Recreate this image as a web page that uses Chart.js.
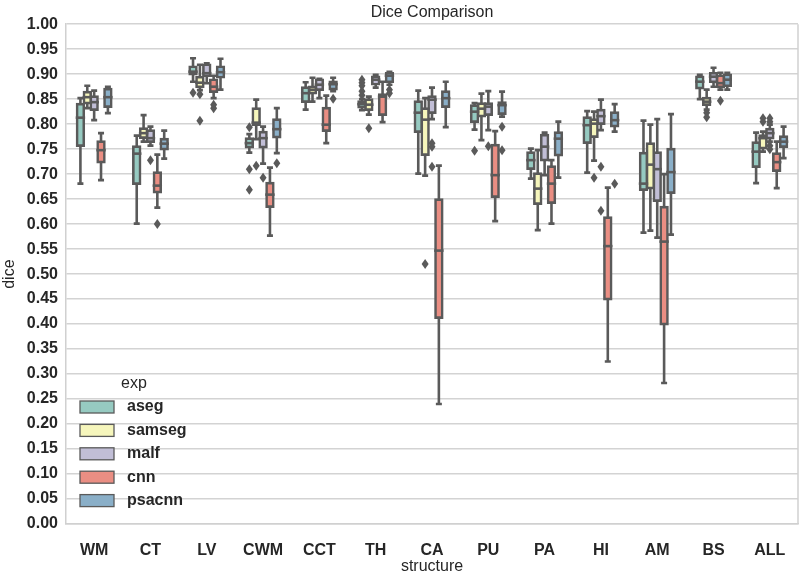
<!DOCTYPE html>
<html><head><meta charset="utf-8">
<script src="https://cdn.jsdelivr.net/npm/chart.js@4.4.1/dist/chart.umd.min.js"></script>
<style>html,body{margin:0;padding:0;background:#fff}#wrap{width:800px;height:571px}</style>
</head><body><div id="wrap"><canvas id="c" width="800" height="571"></canvas></div>
<script>
const categories = ['WM','CT','LV','CWM','CCT','TH','CA','PU','PA','HI','AM','BS','ALL'];
const hues = ['aseg','samseg','malf','cnn','psacnn'];
const hueColors = ['#96cac1','#f6f6bc','#c1bed6','#ea8e83','#8aafc8'];

// five-number summaries per structure: [lower whisker, q1, median, q3, upper whisker]
const asegStats = [
  [0.681,0.757,0.813,0.840,0.852],[0.601,0.681,0.741,0.755,0.777],[0.885,0.900,0.905,0.915,0.932],
  [0.743,0.754,0.762,0.771,0.780],[0.829,0.845,0.862,0.873,0.884],[0.828,0.834,0.840,0.845,0.850],
  [0.701,0.785,0.823,0.845,0.867],[0.789,0.805,0.825,0.837,0.842],[0.691,0.711,0.728,0.743,0.751],
  [0.703,0.763,0.798,0.813,0.826],[0.583,0.669,0.681,0.742,0.807],[0.850,0.872,0.885,0.895,0.899],
  [0.682,0.715,0.745,0.763,0.783]];
const samsegStats = [
  [0.832,0.842,0.854,0.864,0.877],[0.765,0.773,0.782,0.791,0.818],[0.868,0.875,0.883,0.894,0.919],
  [0.770,0.799,0.803,0.831,0.849],[0.845,0.862,0.869,0.875,0.893],[0.819,0.829,0.839,0.849,0.855],
  [0.697,0.739,0.809,0.831,0.852],[0.768,0.816,0.831,0.841,0.861],[0.588,0.641,0.671,0.701,0.748],
  [0.727,0.775,0.801,0.809,0.825],[0.587,0.672,0.719,0.761,0.799],[0.829,0.839,0.845,0.852,0.869],
  [0.745,0.752,0.772,0.777,0.785]];
const malfStats = [
  [0.808,0.829,0.844,0.855,0.867],[0.757,0.765,0.772,0.787,0.795],[0.882,0.897,0.902,0.919,0.922],
  [0.721,0.754,0.772,0.784,0.795],[0.852,0.869,0.879,0.889,0.891],[0.873,0.880,0.889,0.895,0.899],
  [0.810,0.823,0.849,0.855,0.873],[0.788,0.819,0.835,0.841,0.866],[0.698,0.728,0.755,0.778,0.783],
  [0.788,0.801,0.816,0.828,0.849],[0.573,0.647,0.710,0.743,0.810],[0.875,0.885,0.895,0.902,0.913],
  [0.765,0.772,0.782,0.790,0.799]];
const cnnStats = [
  [0.688,0.724,0.748,0.765,0.782],[0.633,0.664,0.677,0.703,0.739],[0.852,0.865,0.875,0.889,0.897],
  [0.577,0.635,0.659,0.682,0.713],[0.762,0.787,0.799,0.832,0.857],[0.804,0.819,0.855,0.859,0.885],
  [0.240,0.413,0.547,0.649,0.717],[0.606,0.655,0.698,0.758,0.786],[0.601,0.643,0.681,0.715,0.728],
  [0.325,0.450,0.556,0.613,0.673],[0.282,0.400,0.565,0.634,0.700],[0.869,0.875,0.882,0.897,0.903],
  [0.672,0.707,0.724,0.741,0.765]];
const psacnnStats = [
  [0.822,0.835,0.854,0.870,0.875],[0.731,0.750,0.761,0.770,0.787],[0.869,0.894,0.904,0.915,0.931],
  [0.742,0.774,0.790,0.809,0.832],[0.866,0.870,0.880,0.885,0.893],[0.879,0.885,0.897,0.902,0.905],
  [0.794,0.835,0.852,0.865,0.885],[0.815,0.821,0.838,0.843,0.865],[0.693,0.738,0.771,0.783,0.805],
  [0.785,0.796,0.808,0.823,0.840],[0.579,0.663,0.704,0.750,0.820],[0.869,0.877,0.889,0.899,0.903],
  [0.732,0.755,0.765,0.775,0.795]];

// outliers per structure
const asegOutliers   = [[],[],[0.863],[0.794,0.710,0.669],[],[0.858,0.866,0.877,0.883,0.889],[],[0.747],[],[],[],[],[]];
const samsegOutliers = [[],[],[0.860,0.807],[0.717],[],[0.792],[0.520],[],[],[0.693],[],[0.823,0.814],[0.805,0.812]];
const malfOutliers   = [[],[0.728],[],[0.693],[],[],[0.762,0.755,0.715],[0.756],[],[0.715,0.627],[],[],[0.805,0.812,0.757,0.750]];
const cnnOutliers    = [[],[0.600],[0.839,0.832],[],[],[],[],[],[],[],[],[0.847],[]];
const psacnnOutliers = [[],[],[],[0.722],[0.851],[0.869,0.862],[],[0.795,0.748],[],[0.681],[],[],[]];

const statsByHue = [asegStats, samsegStats, malfStats, cnnStats, psacnnStats];
const outliersByHue = [asegOutliers, samsegOutliers, malfOutliers, cnnOutliers, psacnnOutliers];

const LINE = '#5a5a5a', LW = 2.6, TXT = '#262626';
const FONT = '"Liberation Sans", Arial, sans-serif';

const boxPlugin = {
  id: 'boxparts',
  beforeDatasetsDraw(chart) {
    const y = chart.scales.y, ctx = chart.ctx;
    ctx.save();
    ctx.strokeStyle = LINE; ctx.lineWidth = LW;
    chart.data.datasets.forEach((ds, i) => {
      chart.getDatasetMeta(i).data.forEach((el, j) => {
        const s = statsByHue[i][j], x = el.x;
        ctx.lineCap = 'butt';
        ctx.beginPath();
        ctx.moveTo(x, y.getPixelForValue(s[1])); ctx.lineTo(x, y.getPixelForValue(s[0]));
        ctx.moveTo(x, y.getPixelForValue(s[3])); ctx.lineTo(x, y.getPixelForValue(s[4]));
        ctx.stroke();
        ctx.lineCap = 'square';
        const cw = el.width * 0.25;
        ctx.beginPath();
        [s[0], s[4]].forEach(v => { const py = y.getPixelForValue(v); ctx.moveTo(x - cw, py); ctx.lineTo(x + cw, py); });
        ctx.stroke();
      });
    });
    ctx.restore();
  },
  afterDatasetDraw(chart, args) {
    const i = args.index, y = chart.scales.y, ctx = chart.ctx;
    ctx.save();
    ctx.strokeStyle = LINE; ctx.lineWidth = LW; ctx.lineCap = 'butt';
    args.meta.data.forEach((el, j) => {
      const s = statsByHue[i][j], x = el.x, hw = el.width / 2 + LW / 2;
      const py = y.getPixelForValue(s[2]);
      ctx.beginPath(); ctx.moveTo(x - hw, py); ctx.lineTo(x + hw, py); ctx.stroke();
      ctx.fillStyle = LINE;
      outliersByHue[i][j].forEach(v => {
        const oy = y.getPixelForValue(v);
        ctx.beginPath();
        ctx.moveTo(x, oy - 5); ctx.lineTo(x + 3.5, oy); ctx.lineTo(x, oy + 5); ctx.lineTo(x - 3.5, oy);
        ctx.closePath(); ctx.fill();
      });
    });
    ctx.restore();
  },
  afterDraw(chart) {
    const ctx = chart.ctx, a = chart.chartArea;
    ctx.save();
    ctx.strokeStyle = '#d0d0d0'; ctx.lineWidth = 1.5;
    ctx.beginPath(); ctx.moveTo(a.right, a.top); ctx.lineTo(a.right, a.bottom); ctx.stroke();
    // legend
    ctx.fillStyle = TXT; ctx.textAlign = 'center'; ctx.textBaseline = 'middle';
    ctx.font = '16px ' + FONT;
    ctx.fillText('exp', 134, 384);
    chart.data.datasets.forEach((ds, k) => {
      const cy = 407 + k * 23.4;
      ctx.fillStyle = ds.backgroundColor;
      ctx.fillRect(80, cy - 6, 34, 12);
      ctx.strokeStyle = LINE; ctx.lineWidth = 1.3;
      ctx.strokeRect(80, cy - 6, 34, 12);
      ctx.fillStyle = TXT; ctx.textAlign = 'left';
      ctx.font = 'bold 16px ' + FONT;
      ctx.fillText(ds.label, 127, cy);
    });
    ctx.restore();
  }
};

const datasets = hues.map((h, i) => ({
  label: h,
  data: statsByHue[i].map(s => [s[1], s[3]]),
  backgroundColor: hueColors[i],
  borderColor: LINE,
  borderWidth: LW,
  borderSkipped: false,
  inflateAmount: LW / 2,
  categoryPercentage: 0.61,
  barPercentage: 0.99
}));

new Chart(document.getElementById('c'), {
  type: 'bar',
  data: { labels: categories, datasets },
  plugins: [boxPlugin],
  options: {
    responsive: false,
    devicePixelRatio: 1,
    animation: false,
    events: [],
    layout: { padding: { left: 0, right: 2, top: 0, bottom: 0 } },
    plugins: {
      legend: { display: false },
      tooltip: { enabled: false },
      title: { display: true, text: 'Dice Comparison', fullSize: false, color: TXT,
               font: { family: FONT, size: 16, weight: 'normal', lineHeight: 1.2 }, padding: { top: 3, bottom: 2 } }
    },
    scales: {
      x: {
        grid: { display: false },
        border: { display: true, color: '#d0d0d0', width: 1.5 },
        ticks: { color: TXT, font: { family: FONT, size: 16, weight: 'bold' }, padding: 9, maxRotation: 0, autoSkip: false },
        title: { display: true, text: 'structure', color: TXT, font: { family: FONT, size: 16, lineHeight: 0.6 }, padding: { top: 0, bottom: 0 } },
        afterFit(s) { s.height = 47; }
      },
      y: {
        min: 0, max: 1,
        grid: { color: '#d3d3d3', lineWidth: 1.5, drawTicks: false },
        border: { display: true, color: '#d0d0d0', width: 1.5 },
        ticks: { stepSize: 0.05, color: TXT, padding: 8, font: { family: FONT, size: 16, weight: 'bold' },
                 callback: v => Number(v).toFixed(2) },
        title: { display: true, text: 'dice', color: TXT, font: { family: FONT, size: 16 }, padding: 0 },
        afterFit(s) { s.width = 66; }
      }
    }
  }
});
</script>
</body></html>
